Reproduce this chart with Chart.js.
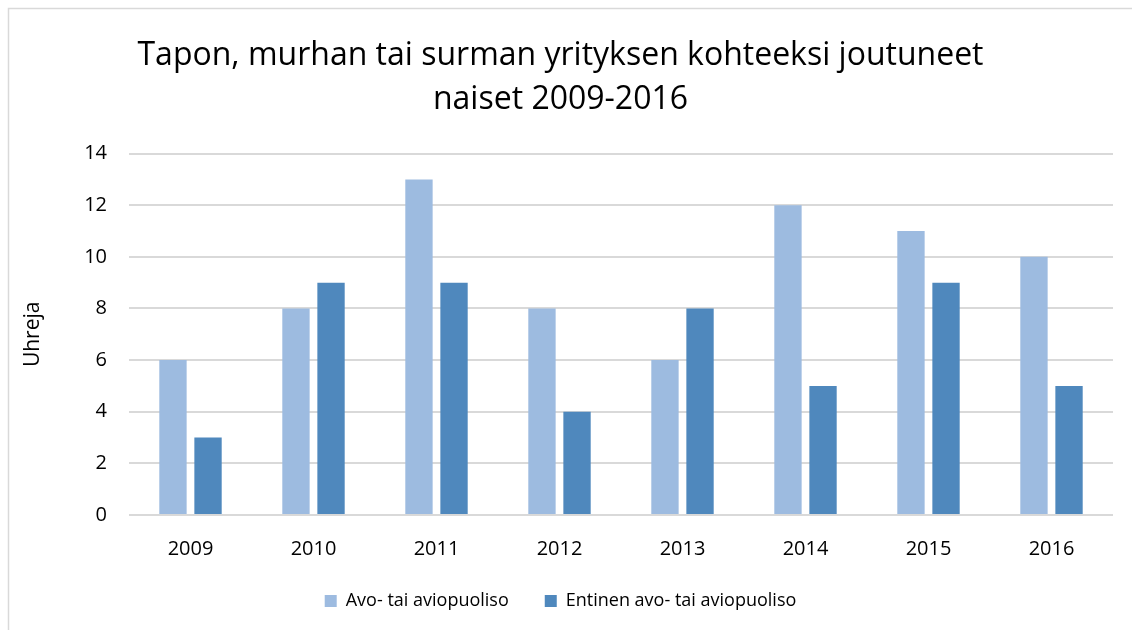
<!DOCTYPE html>
<html>
<head>
<meta charset="utf-8">
<script src="https://cdn.jsdelivr.net/npm/chart.js@4.4.0/dist/chart.umd.min.js"></script>
<style>
  html, body { margin: 0; padding: 0; background: #fff; }
  #wrap { position: relative; width: 1132px; height: 630px; }
</style>
</head>
<body>
<div id="wrap"><canvas id="chart" width="1132" height="630"></canvas></div>
<script>
// Tapon, murhan tai surman yrityksen kohteeksi joutuneet naiset 2009-2016
const vuodet = ["2009", "2010", "2011", "2012", "2013", "2014", "2015", "2016"];
const avoTaiAvio = [6, 8, 13, 8, 6, 12, 11, 10];
const entinenAvo = [3, 9, 9, 4, 8, 5, 9, 5];

const fontti = "'Open Sans', 'Noto Sans', sans-serif";

// kehys kaavion ympärillä (vain vasen ja ylä reuna näkyvät)
const kehys = {
  id: "kehys",
  beforeDraw(chart) {
    const ctx = chart.ctx;
    ctx.save();
    ctx.fillStyle = "#fff";
    ctx.fillRect(0, 0, chart.width, chart.height);
    ctx.strokeStyle = "#d9d9d9";
    ctx.lineWidth = 1.5;
    ctx.beginPath();
    ctx.moveTo(8.5, chart.height);
    ctx.lineTo(8.5, 8.5);
    ctx.lineTo(chart.width, 8.5);
    ctx.stroke();
    ctx.restore();
  }
};

new Chart(document.getElementById("chart").getContext("2d"), {
  type: "bar",
  data: {
    labels: vuodet,
    datasets: [
      {
        label: "Avo- tai aviopuoliso",
        data: avoTaiAvio,
        backgroundColor: "#9dbbe0",
        categoryPercentage: 0.57,
        barPercentage: 0.78
      },
      {
        label: "Entinen avo- tai aviopuoliso",
        data: entinenAvo,
        backgroundColor: "#4f88bd",
        categoryPercentage: 0.57,
        barPercentage: 0.78
      }
    ]
  },
  options: {
    responsive: false,
    animation: false,
    layout: { padding: { left: 8, right: 19, top: 16, bottom: 10 } },
    plugins: {
      title: {
        display: true,
        text: ["Tapon, murhan tai surman yrityksen kohteeksi joutuneet", "naiset 2009-2016"],
        color: "#000",
        font: { family: fontti, size: 32, weight: "normal", lineHeight: 1.4 },
        padding: { top: 17, bottom: 31 }
      },
      legend: {
        position: "bottom",
        labels: {
          color: "#000",
          font: { family: fontti, size: 18 },
          boxWidth: 12,
          boxHeight: 12,
          padding: 36
        }
      },
      tooltip: { enabled: false }
    },
    scales: {
      x: {
        grid: { display: false },
        border: { display: false },
        ticks: { color: "#000", font: { family: fontti, size: 20 }, padding: 14 },
        afterFit(scale) { scale.height = 41; }
      },
      y: {
        min: 0,
        max: 14,
        ticks: { stepSize: 2, color: "#000", font: { family: fontti, size: 20 }, padding: 22 },
        grid: { color: "#d9d9d9", lineWidth: 2, drawTicks: false },
        border: { display: false },
        title: {
          display: true,
          text: "Uhreja",
          color: "#000",
          font: { family: fontti, size: 21 },
          padding: { top: 12, bottom: 0 }
        },
        afterFit(scale) { scale.width = 121; }
      }
    }
  },
  plugins: [kehys]
});
</script>
</body>
</html>
